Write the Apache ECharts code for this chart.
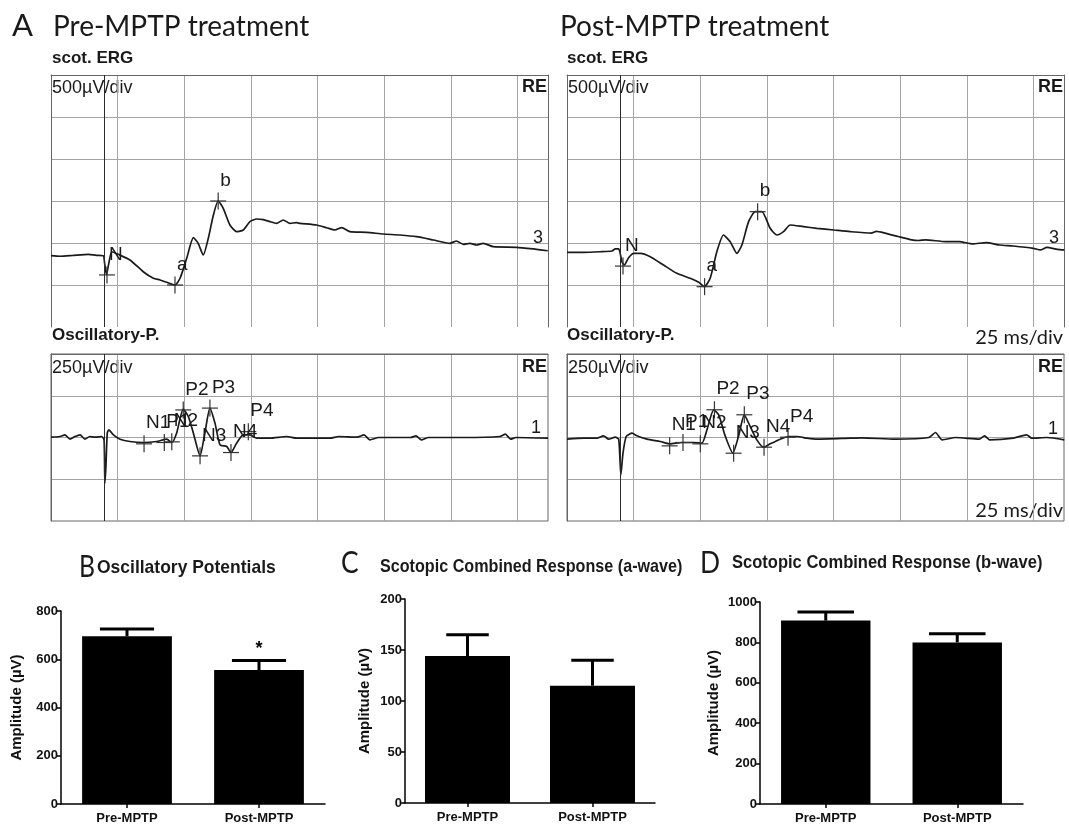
<!DOCTYPE html>
<html><head><meta charset="utf-8">
<script src="https://cdn.jsdelivr.net/npm/echarts@6/dist/echarts.min.js"></script>
<style>html,body{margin:0;padding:0;background:#fff}#c{width:1069px;height:833px}</style>
</head><body><div id="c"></div>
<script>
// ---------- data ----------
// time axis (ms, 25 ms/div) and amplitude (µV)
const STIM_MS = 20;
const X_MAX = 186.4;
const ERG_Y = {min: 0, max: 3000, interval: 500};   // 500 µV/div
const OP_Y = {min: -500, max: 500, interval: 250};  // 250 µV/div

const ergPreTrace = [[0,849],[3.4,842],[8,851],[14,865],[17,853],[19.6,849],[20.1,760],[20.8,622],[21.7,760],[22.8,896],[25.2,865],[29.6,798],[34.6,658],[38.4,580],[40.9,560],[43.4,532],[46.5,500],[48.4,580],[50.9,818],[53.4,1063],[55.2,996],[57.1,857],[59,1056],[60.9,1333],[62.7,1500],[64.6,1413],[67.1,1214],[69.6,1135],[72.1,1155],[74.6,1254],[77.1,1286],[79.6,1278],[82.1,1254],[84.6,1234],[87.1,1274],[89.6,1234],[92.1,1242],[93.4,1234],[99.6,1214],[103.4,1182],[106.5,1155],[109,1182],[112.1,1135],[118.4,1127],[124.6,1107],[130.9,1095],[137.1,1075],[143.4,1036],[149.6,996],[152.1,1024],[154.6,984],[157.1,996],[159.6,976],[162.1,996],[165.9,956],[174.6,949],[180.9,929],[186.3,908]];
const ergPostTrace = [[0,889],[6.2,889],[12.5,896],[16.9,905],[18.1,929],[19.4,929],[20.6,777],[21.5,738],[23.1,825],[25,877],[27.5,877],[31.2,837],[36.2,738],[41.2,639],[46.2,580],[49.4,532],[51.5,480],[53.7,580],[56.2,896],[58.7,1095],[61.2,1015],[63.7,877],[65.6,976],[68.1,1254],[70.6,1373],[73.1,1373],[76.2,1175],[78.7,1095],[81.2,1135],[83.7,1214],[88.7,1194],[93.7,1175],[100,1155],[106.2,1135],[114.1,1118],[116,1138],[119.2,1118],[124.2,1077],[129.3,1037],[131.9,1030],[134.4,1037],[142,1017],[147.1,1017],[152.1,989],[157.2,1005],[162.3,976],[167.4,964],[174.9,937],[177.5,917],[180,949],[183.9,925],[186.5,917]];
const opPreTrace = [[0,2],[3.4,6],[5.2,16],[7.1,-10],[9,6],[10.9,16],[12.7,-10],[14.6,6],[16.5,2],[19,6],[19.9,-14],[20.2,-274],[20.6,-174],[21.1,26],[21.7,46],[23.4,16],[25.9,-10],[29.6,-24],[34.6,-30],[39.6,-24],[43.4,-10],[45.3,-30],[47.1,26],[49.6,170],[51.5,126],[53.4,26],[55.9,-110],[57.7,26],[59.6,176],[61.5,86],[63.4,-44],[65.9,-54],[67.5,-90],[69.6,-34],[72.1,16],[74.6,16],[77.1,-4],[82.1,-4],[88.4,6],[92.1,-4],[104.6,-4],[108,6],[114.8,2],[117.4,16],[119.6,-14],[122.9,0],[134.9,0],[136.9,10],[138.9,-14],[141.6,0],[154.9,0],[168.4,6],[170.4,20],[172.4,-10],[174.4,0],[186.4,-4]];
const opPostTrace = [[0,-10],[6.2,-4],[11.2,-4],[13.7,10],[15.6,-10],[18.1,2],[19.4,-10],[20.2,-224],[21,-94],[22.2,6],[24.4,26],[26.2,10],[30,-10],[35,-24],[38.7,-38],[43.1,-30],[47.5,-30],[50.6,-34],[52.5,46],[55,166],[56.9,136],[59.4,6],[62.2,-94],[64.3,6],[66.5,136],[68.7,66],[71.2,-14],[73.7,-58],[76.2,-38],[80,-10],[83.1,6],[86.2,6],[90,-4],[93.7,-10],[106.2,-4],[110.4,-2],[123,-10],[135.7,0],[138.2,30],[140.7,-14],[145.8,0],[154.6,-10],[156.6,10],[158.5,-14],[167.4,-4],[172.4,16],[174.3,-4],[180,0],[186.5,-14]];

// markers: [label, ms, µV]
const ergPreMarks = [['N',21,620],['a',46.5,500],['b',62.7,1500]];
const ergPostMarks = [['N',21,725],['a',51.6,480],['b',71.5,1373]];
const opPreMarks = [['N1',34.9,-38],['P1',42.5,-30],['N2',45.3,-26],['P2',49.6,165],['N3',55.9,-110],['P3',59.6,176],['N4',67.5,-90],['P4',74,35]];
const opPostMarks = [['N1',38.5,-50],['P1',43.5,-30],['N2',50,-38],['P2',55.3,166],['N3',62.5,-94],['P3',66.5,136],['N4',73.9,-58],['P4',82.9,2]];

// bar charts
const barCategories = ['Pre-MPTP', 'Post-MPTP'];
const opMean = [695, 555];  const opSem = [30, 40];  const opSig = ['', '*'];
const aMean = [144, 115];   const aSem = [21, 25];   const aSig = ['', ''];
const bMean = [908, 800];   const bSem = [42, 43];   const bSig = ['', ''];
const opAxis = {max: 800, interval: 200};
const aAxis = {max: 200, interval: 50};
const bAxis = {max: 1000, interval: 200};

// ---------- style ----------
const SANS = "'Liberation Sans', Arial, Helvetica, sans-serif";
const HUM = "Lato, 'Open Sans', sans-serif";
const GRID_C = '#a4a4a4', BORDER_C = '#666666', TRACE_C = '#1a1a1a', STIM_C = '#2a2a2a';

const chart = echarts.init(document.getElementById('c'), null, {renderer: 'canvas', width: 1069, height: 833});

function traceXAxis(g) {
  return {type: 'value', gridIndex: g, min: 0, max: X_MAX, interval: 25, position: 'top',
    axisLine: {show: true, onZero: false, lineStyle: {color: BORDER_C, width: 1}},
    axisTick: {show: false}, axisLabel: {show: false},
    splitLine: {show: true, showMinLine: false, showMaxLine: false, lineStyle: {color: GRID_C, width: 1}}};
}
function traceYAxis(g, r, pos, split) {
  return {type: 'value', gridIndex: g, min: r.min, max: r.max, interval: r.interval, position: pos,
    axisLine: {show: true, onZero: false, lineStyle: {color: BORDER_C, width: 1}},
    axisTick: {show: false}, axisLabel: {show: false},
    splitLine: {show: split, showMinLine: false, showMaxLine: false, lineStyle: {color: GRID_C, width: 1}}};
}
function barXAxis(g) {
  return {type: 'category', gridIndex: g, data: barCategories,
    axisLine: {show: true, onZero: false, lineStyle: {color: '#000', width: 1.5}},
    axisTick: {show: true, alignWithLabel: true, length: 4, lineStyle: {color: '#000', width: 1.5}},
    axisLabel: {fontFamily: SANS, fontWeight: 'bold', fontSize: 13, color: '#111', margin: 8}};
}
function barYAxis(g, a, gap) {
  return {type: 'value', gridIndex: g, min: 0, max: a.max, interval: a.interval,
    name: 'Amplitude (µV)', nameLocation: 'middle', nameGap: gap, nameRotate: 90,
    nameTextStyle: {fontFamily: SANS, fontWeight: 'bold', fontSize: 15, color: '#111'},
    axisLine: {show: true, lineStyle: {color: '#000', width: 1.5}},
    axisTick: {show: true, length: 5, lineStyle: {color: '#000', width: 1.5}},
    axisLabel: {fontFamily: SANS, fontWeight: 'bold', fontSize: 13, color: '#111', margin: 3,
      formatter: function (v) { return String(v); }},
    splitLine: {show: false}};
}
function traceSeries(data, xi, yi) {
  return {type: 'line', xAxisIndex: xi, yAxisIndex: yi, data: data, showSymbol: false, smooth: 0.2,
    lineStyle: {color: TRACE_C, width: 1.7}, silent: true, z: 3,
    markLine: {silent: true, symbol: ['none', 'none'], label: {show: false},
      lineStyle: {color: STIM_C, width: 1, type: 'solid', opacity: 1}, data: [{xAxis: STIM_MS}]}};
}
function markSeries(marks, xi, yi, horiz) {
  return {type: 'scatter', xAxisIndex: xi, yAxisIndex: yi, symbol: 'rect',
    symbolSize: horiz ? [16, 1.2] : [1.2, 17], itemStyle: {color: '#333', opacity: 1}, silent: true, z: 4,
    data: marks.map(m => ({name: m[0], value: [m[1], m[2]]})),
    label: horiz ? {show: true, formatter: '{b}', position: [10, -20], align: 'left', verticalAlign: 'middle',
      fontFamily: SANS, fontSize: 19, color: '#1a1a1a', opacity: 1} : {show: false}};
}
function errRender(capFrac, sig) {
  return function (params, api) {
    const i = api.value(0), m = api.value(1), s = api.value(2);
    const base = api.coord([i, m]), top = api.coord([i, m + s]);
    const hw = api.size([1, 0])[0] * capFrac / 2;
    const ch = [
      {type: 'line', shape: {x1: base[0], y1: base[1], x2: top[0], y2: top[1]}, style: {stroke: '#000', lineWidth: 3}},
      {type: 'line', shape: {x1: top[0] - hw, y1: top[1], x2: top[0] + hw, y2: top[1]}, style: {stroke: '#000', lineWidth: 3}}
    ];
    if (sig[params.dataIndex]) {
      ch.push({type: 'text', x: top[0], y: top[1] - 2, style: {text: sig[params.dataIndex], font: 'bold 18px ' + SANS,
        fill: '#000', align: 'center', textAlign: 'center', verticalAlign: 'bottom', textVerticalAlign: 'bottom'}});
    }
    return {type: 'group', children: ch};
  };
}
function barSeries(mean, sem, sig, idx, capFrac) {
  return [
    {type: 'bar', xAxisIndex: idx, yAxisIndex: idx, data: mean, barWidth: '68%', itemStyle: {color: '#000'}, silent: true, z: 2},
    {type: 'custom', xAxisIndex: idx, yAxisIndex: idx, data: mean.map((m, i) => [i, m, sem[i]]), encode: {x: 0, y: 1},
      renderItem: errRender(capFrac, sig), silent: true, clip: false, z: 3}
  ];
}
function txt(x, y, text, font, align, extra) {
  return Object.assign({type: 'text', x: x, y: y, silent: true, style: {text: text, font: font, fill: '#1a1a1a',
    align: align || 'left', textAlign: align || 'left', verticalAlign: 'middle', textVerticalAlign: 'middle'}}, extra || {});
}

const F_HUM_BIG = 'normal 31px ' + HUM;
const F_HUM_T = 'normal 28px ' + HUM;
const F_LBL = 'bold 17px ' + SANS;
const F_DIV = 'normal 18px ' + SANS;
const F_RE = 'bold 18px ' + SANS;
const F_MS = 'normal 20px ' + HUM;
const F_BT = 'bold 19px ' + SANS;

const gridBox = {show: true, borderColor: BORDER_C, borderWidth: 1, backgroundColor: 'rgba(0,0,0,0)'};
const option = {
  animation: false,
  backgroundColor: '#fff',
  grid: [
    {left: 51, top: 75, width: 497, height: 252, outerBoundsMode: 'none'},
    {left: 567, top: 75, width: 497, height: 252, outerBoundsMode: 'none'},
    Object.assign({left: 51, top: 354, width: 497, height: 167, outerBoundsMode: 'none'}, gridBox),
    Object.assign({left: 567, top: 354, width: 497, height: 167, outerBoundsMode: 'none'}, gridBox),
    {left: 61, top: 611, width: 264, height: 193, outerBoundsMode: 'none'},
    {left: 405, top: 599, width: 250, height: 204, outerBoundsMode: 'none'},
    {left: 760, top: 602, width: 263, height: 202, outerBoundsMode: 'none'}
  ],
  xAxis: [traceXAxis(0), traceXAxis(1), traceXAxis(2), traceXAxis(3), barXAxis(4), barXAxis(5), barXAxis(6)],
  yAxis: [traceYAxis(0, ERG_Y, 'left', true), traceYAxis(1, ERG_Y, 'left', true),
    traceYAxis(2, OP_Y, 'left', true), traceYAxis(3, OP_Y, 'left', true),
    barYAxis(4, opAxis, 37), barYAxis(5, aAxis, 33), barYAxis(6, bAxis, 39),
    traceYAxis(0, ERG_Y, 'right', false), traceYAxis(1, ERG_Y, 'right', false)],
  series: [
    traceSeries(ergPreTrace, 0, 0), traceSeries(ergPostTrace, 1, 1),
    traceSeries(opPreTrace, 2, 2), traceSeries(opPostTrace, 3, 3),
    markSeries(ergPreMarks, 0, 0, true), markSeries(ergPreMarks, 0, 0, false),
    markSeries(ergPostMarks, 1, 1, true), markSeries(ergPostMarks, 1, 1, false),
    markSeries(opPreMarks, 2, 2, true), markSeries(opPreMarks, 2, 2, false),
    markSeries(opPostMarks, 3, 3, true), markSeries(opPostMarks, 3, 3, false)
  ].concat(barSeries(opMean, opSem, opSig, 4, 0.41), barSeries(aMean, aSem, aSig, 5, 0.34), barSeries(bMean, bSem, bSig, 6, 0.43)),
  graphic: [
    txt(12, 26, 'A', F_HUM_BIG),
    txt(53, 27, 'Pre-MPTP treatment', F_HUM_T),
    txt(560, 27, 'Post-MPTP treatment', F_HUM_T),
    txt(52, 58, 'scot. ERG', F_LBL), txt(567, 58, 'scot. ERG', F_LBL),
    txt(52, 88, '500µV/div', F_DIV), txt(568, 88, '500µV/div', F_DIV),
    txt(547, 87, 'RE', F_RE, 'right'), txt(1063, 87, 'RE', F_RE, 'right'),
    txt(543, 238, '3', F_DIV, 'right'), txt(1059, 238, '3', F_DIV, 'right'),
    txt(52, 335, 'Oscillatory-P.', F_LBL), txt(567, 335, 'Oscillatory-P.', F_LBL),
    txt(52, 368, '250µV/div', F_DIV), txt(568, 368, '250µV/div', F_DIV),
    txt(547, 367, 'RE', F_RE, 'right'), txt(1063, 367, 'RE', F_RE, 'right'),
    txt(541, 428, '1', F_DIV, 'right'), txt(1058, 429, '1', F_DIV, 'right'),
    txt(1063, 338, '25 ms/div', F_MS, 'right'), txt(1063, 511, '25 ms/div', F_MS, 'right'),
    txt(79, 567, 'B', F_HUM_BIG, 'left', {scaleX: 0.8}), txt(97, 568, 'Oscillatory Potentials', F_BT, 'left', {scaleX: 0.92}),
    txt(341, 563, 'C', F_HUM_BIG, 'left', {scaleX: 0.85}), txt(380, 567, 'Scotopic Combined Response (a-wave)', F_BT, 'left', {scaleX: 0.85}),
    txt(700, 563, 'D', F_HUM_BIG, 'left', {scaleX: 0.85}), txt(732, 563, 'Scotopic Combined Response (b-wave)', F_BT, 'left', {scaleX: 0.87})
  ]
};
chart.setOption(option);
</script>
</body></html>
